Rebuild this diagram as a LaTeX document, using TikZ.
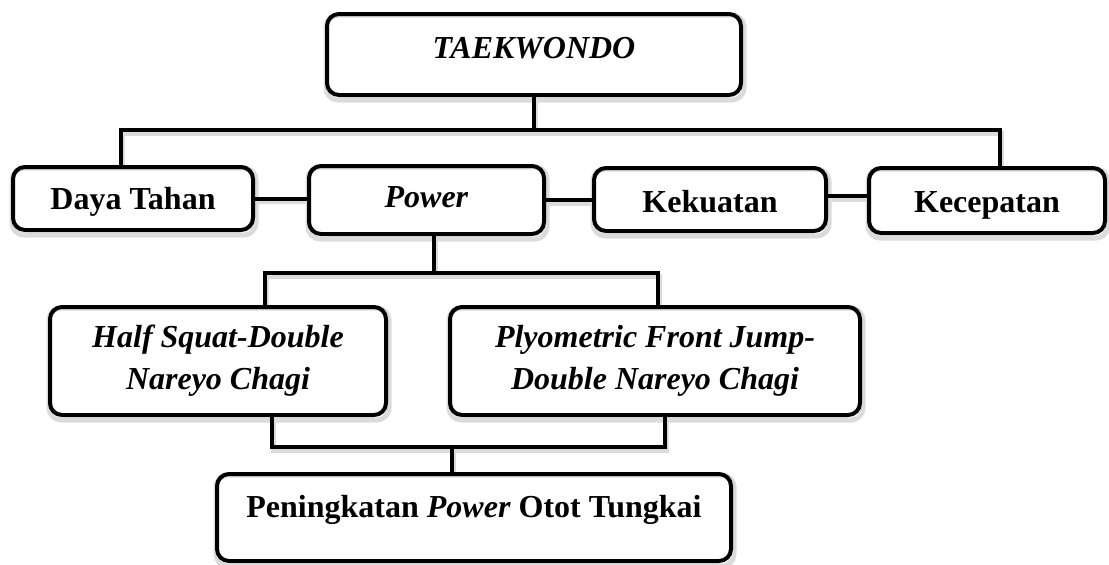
\documentclass[tikz,border=0pt]{standalone}
\usepackage{fontspec}
\setmainfont{Liberation Serif}
\usetikzlibrary{backgrounds}
\begin{document}
\begin{tikzpicture}[x=1pt,y=-1pt,
  box/.style={draw, line width=4pt, rounded corners=12pt, inner sep=0pt, align=center,
    font=\fontsize{32}{42}\selectfont},
  rowtxt/.style={text height=22pt, text depth=1pt},
  link/.style={line width=4pt},
  shadowline/.style={draw=black!14, line width=5pt}]
\useasboundingbox (0,0) rectangle (1109,565);
% nodes
\node[box, minimum width=414pt, minimum height=81pt, text height=22pt, text depth=15pt]
  (tkd) at (534,54.5) {\textbf{\textit{TAEKWONDO}}};
\node[box, rowtxt, minimum width=240pt, minimum height=63pt] (daya) at (133,198.5) {\textbf{Daya Tahan}};
\node[box, minimum width=235pt, minimum height=68pt, text height=22pt, text depth=8pt] (power) at (426.5,200) {\textbf{\textit{Power}}};
\node[box, minimum width=232pt, minimum height=63pt, text height=25pt, text depth=0pt] (kek) at (710,199.5) {\textbf{Kekuatan}};
\node[box, minimum width=236pt, minimum height=65pt, text height=23pt, text depth=0pt] (kec) at (987,200.5) {\textbf{Kecepatan}};
\node[box, minimum width=336pt, minimum height=108pt] (half) at (218,361) {\textbf{\textit{Half Squat-Double}}\\\textbf{\textit{Nareyo Chagi}}};
\node[box, minimum width=410pt, minimum height=108pt] (plyo) at (655,361) {\textbf{\textit{Plyometric Front Jump-}}\\\textbf{\textit{Double Nareyo Chagi}}};
\node[box, minimum width=514pt, minimum height=87pt, text height=22pt, text depth=23pt] (pen) at (474,517.5) {\textbf{Peningkatan \textit{Power} Otot Tungkai}};
% junctions
\coordinate (j1) at (534,130);
\coordinate (j2) at (434,273);
\coordinate (j3) at (452,447);
\begin{scope}[on background layer]
% soft shadows of boxes and connectors
\begin{scope}[transform canvas={xshift=1pt,yshift=-3pt}, link/.append style={shadowline}]
\foreach \n in {tkd,daya,power,kek,kec,half,plyo,pen}
  \draw[shadowline, rounded corners=12pt] (\n.south west) rectangle (\n.north east);
\draw[link] (tkd.south) -- (j1);
\draw[link] ([xshift=-12pt]daya.north) |- (j1) -| ([xshift=13pt]kec.north);
\draw[link] (daya.east) -- (daya.east -| power.west);
\draw[link] (power.east) -- (power.east -| kek.west);
\draw[link] ([yshift=3.5pt]kek.east) -- ([yshift=3.5pt]kek.east -| kec.west);
\draw[link] ([xshift=7.5pt]power.south) -- (j2);
\draw[link] ([xshift=47pt]half.north) |- (j2) -| ([xshift=3pt]plyo.north);
\draw[link] ([xshift=54pt]half.south) |- (j3) -| ([xshift=10pt]plyo.south);
\draw[link] (j3) -- (j3 |- pen.north);
\end{scope}
% connectors
\draw[link] (tkd.south) -- (j1);
\draw[link] ([xshift=-12pt]daya.north) |- (j1) -| ([xshift=13pt]kec.north);
\draw[link] (daya.east) -- (daya.east -| power.west);
\draw[link] (power.east) -- (power.east -| kek.west);
\draw[link] ([yshift=3.5pt]kek.east) -- ([yshift=3.5pt]kek.east -| kec.west);
\draw[link] ([xshift=7.5pt]power.south) -- (j2);
\draw[link] ([xshift=47pt]half.north) |- (j2) -| ([xshift=3pt]plyo.north);
\draw[link] ([xshift=54pt]half.south) |- (j3) -| ([xshift=10pt]plyo.south);
\draw[link] (j3) -- (j3 |- pen.north);
\end{scope}
\end{tikzpicture}
\end{document}
